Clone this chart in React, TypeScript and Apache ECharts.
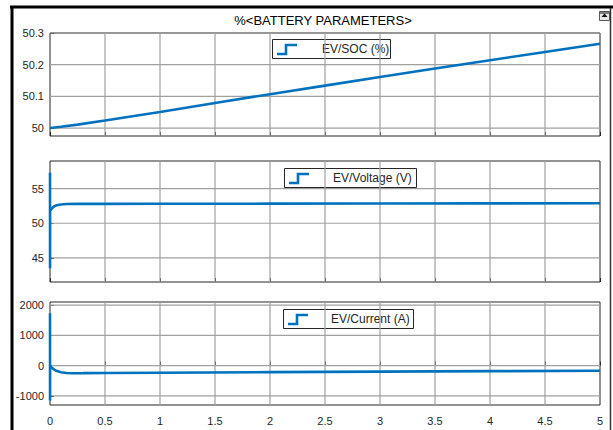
import React, { useEffect, useRef } from "react";
import * as echarts from "echarts";

const titleText = "%<BATTERY PARAMETERS>";
const seriesNames = ["EV/SOC (%)", "EV/Voltage (V)", "EV/Current (A)"];

const socTime = [0, 0.1, 0.25, 0.5, 1, 1.5, 2, 2.5, 3, 3.5, 4, 4.5, 5];
const socValues = [50.0, 50.004, 50.011, 50.024, 50.051, 50.079, 50.107, 50.134, 50.161, 50.188, 50.214, 50.24, 50.266];

const voltTime = [0, 0.0005, 0.001, 0.01, 0.02, 0.04, 0.06, 0.1, 0.15, 0.25, 0.5, 1, 2, 3, 4, 5];
const voltValues = [57.3, 43.5, 51.8, 52.0, 52.2, 52.45, 52.6, 52.72, 52.78, 52.8, 52.8, 52.81, 52.83, 52.85, 52.87, 52.9];

const currTime = [0, 0.0005, 0.001, 0.01, 0.02, 0.05, 0.1, 0.15, 0.2, 0.3, 0.5, 1, 2, 3, 4, 5];
const currValues = [1730, -1150, 0, -40, -80, -160, -220, -245, -250, -248, -243, -233, -215, -198, -183, -170];

const xTicks = [0, 0.5, 1, 1.5, 2, 2.5, 3, 3.5, 4, 4.5, 5];
const socTicks = [50, 50.1, 50.2, 50.3];
const voltTicks = [45, 50, 55];
const currTicks = [-1000, 0, 1000, 2000];

const yRanges = [
  [49.975, 50.3],
  [41.5, 59],
  [-1300, 2100],
];

const FONT = "Liberation Sans, Arial, sans-serif";
const BLUE = "#0072BD";
const GRIDC = "#a0a0a0";

export default function App() {
  const ref = useRef<HTMLDivElement>(null);

  useEffect(() => {
    if (!ref.current) return;
    const chart = echarts.init(ref.current, undefined, { renderer: "svg" });

    const grids = [
      { left: 50, top: 33, width: 550, height: 103 },
      { left: 50, top: 161, width: 550, height: 121 },
      { left: 50, top: 302, width: 550, height: 103 },
    ].map((g) => ({
      ...g,
      show: true,
      borderColor: "#262626",
      borderWidth: 1,
    }));

    const tickSets = [socTicks, voltTicks, currTicks];
    const times = [socTime, voltTime, currTime];
    const values = [socValues, voltValues, currValues];
    const xMin = xTicks[0];
    const xMax = xTicks[xTicks.length - 1];

    const xAxis = [0, 1, 2].map((i) => ({
      type: "value",
      gridIndex: i,
      min: xMin,
      max: xMax,
      interval: xTicks[1] - xTicks[0],
      axisLine: { show: false },
      axisTick: { show: true, inside: true, length: 4, lineStyle: { color: "#262626" } },
      splitLine: { show: false },
      axisLabel: {
        show: i === 2,
        fontSize: 11,
        color: "#262626",
        fontFamily: FONT,
        margin: 10,
        showMinLabel: true,
        showMaxLabel: true,
        formatter: (v: number) => String(v),
      },
    }));

    const yAxis = [0, 1, 2].map((i) => ({
      type: "value",
      gridIndex: i,
      min: yRanges[i][0],
      max: yRanges[i][1],
      axisLine: { show: false },
      axisTick: {
        show: true,
        inside: true,
        length: 4,
        lineStyle: { color: "#262626" },
        customValues: tickSets[i],
      },
      splitLine: { show: false },
      axisLabel: {
        fontSize: 11,
        color: "#262626",
        fontFamily: FONT,
        margin: 6,
        customValues: tickSets[i],
        formatter: (v: number) => String(Math.round(v * 1000) / 1000),
      },
    }));

    const gridSeries: any[] = [];
    [0, 1, 2].forEach((i) => {
      xTicks.slice(1, -1).forEach((v) => {
        gridSeries.push({
          type: "line",
          xAxisIndex: i,
          yAxisIndex: i,
          silent: true,
          showSymbol: false,
          symbol: "none",
          z: 1,
          lineStyle: { color: GRIDC, width: 1.2 },
          data: [
            [v, yRanges[i][0]],
            [v, yRanges[i][1]],
          ],
        });
      });
      tickSets[i].forEach((v) => {
        gridSeries.push({
          type: "line",
          xAxisIndex: i,
          yAxisIndex: i,
          silent: true,
          showSymbol: false,
          symbol: "none",
          z: 1,
          lineStyle: { color: GRIDC, width: 1.2 },
          data: [
            [xMin, v],
            [xMax, v],
          ],
        });
      });
    });

    const series = [0, 1, 2].map((i) => ({
      type: "line",
      name: seriesNames[i],
      xAxisIndex: i,
      yAxisIndex: i,
      showSymbol: false,
      symbol: "none",
      clip: true,
      z: 3,
      lineStyle: { color: BLUE, width: 2.6 },
      data: times[i].map((t, k) => [t, values[i][k]]),
    }));

    const legendBoxes = [
      { x: 272, y: 39, w: 118, tx: 322 },
      { x: 284, y: 168, w: 132, tx: 333 },
      { x: 283, y: 309, w: 130, tx: 331 },
    ];

    const legendGraphics = legendBoxes.map((b, i) => ({
      type: "group",
      z: 10,
      children: [
        {
          type: "rect",
          shape: { x: b.x + 0.5, y: b.y + 0.5, width: b.w, height: 19 },
          style: { fill: "#ffffff", stroke: "#262626", lineWidth: 1 },
        },
        {
          type: "polyline",
          shape: {
            points: [
              [b.x + 5, b.y + 15],
              [b.x + 14, b.y + 15],
              [b.x + 14, b.y + 6],
              [b.x + 25, b.y + 6],
            ],
          },
          style: { stroke: BLUE, lineWidth: 2.6, fill: null },
        },
        {
          type: "text",
          x: b.tx,
          y: b.y + 10,
          style: {
            text: seriesNames[i],
            fontSize: 12,
            fontFamily: FONT,
            fill: "#262626",
            verticalAlign: "middle",
            align: "left",
          },
        },
      ],
    }));

    chart.setOption({
      animation: false,
      backgroundColor: "#ffffff",
      grid: grids,
      xAxis,
      yAxis,
      series: [...gridSeries, ...series],
      graphic: [
        {
          type: "line",
          shape: { x1: 10, y1: 7, x2: 613, y2: 7 },
          style: { stroke: "#000000", lineWidth: 3 },
        },
        {
          type: "line",
          shape: { x1: 12, y1: 6, x2: 12, y2: 430 },
          style: { stroke: "#000000", lineWidth: 3 },
        },
        {
          type: "line",
          shape: { x1: 610.5, y1: 8, x2: 610.5, y2: 430 },
          style: { stroke: "#333333", lineWidth: 1.5 },
        },
        {
          type: "rect",
          shape: { x: 599.5, y: 11.5, width: 10, height: 9 },
          style: { fill: "#e8e8e8", stroke: "#555555", lineWidth: 1 },
        },
        {
          type: "polygon",
          shape: { points: [[601.5, 17], [604.5, 13.5], [607.5, 17]] },
          style: { fill: "#111111" },
        },
        {
          type: "line",
          shape: { x1: 600, y1: 13, x2: 609, y2: 13 },
          style: { stroke: "#111111", lineWidth: 1 },
        },
        {
          type: "text",
          x: 323,
          y: 20,
          style: {
            text: titleText,
            fontSize: 13,
            fontFamily: FONT,
            fill: "#000000",
            align: "center",
            verticalAlign: "middle",
          },
        },
        ...legendGraphics,
      ],
    });

    return () => chart.dispose();
  }, []);

  return (
    <div
      ref={ref}
      style={{ position: "fixed", left: 0, top: 0, width: 613, height: 430, background: "#fff" }}
    />
  );
}
